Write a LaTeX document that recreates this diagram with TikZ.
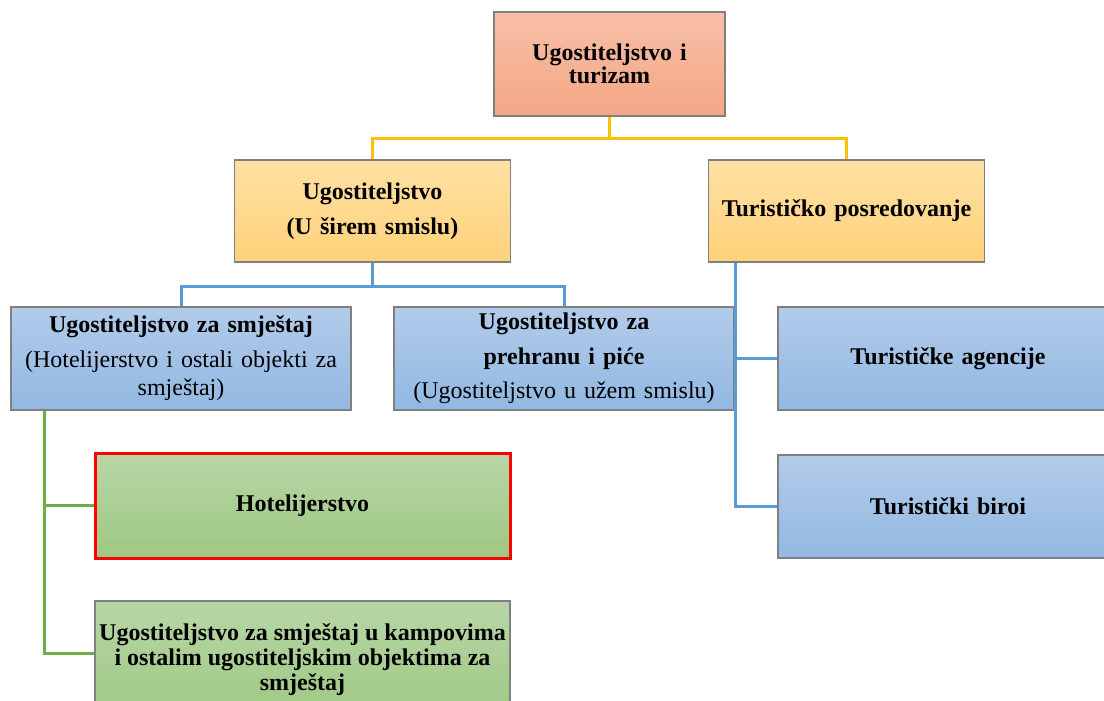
\documentclass[tikz,border=0pt]{standalone}
\usepackage{fontspec}
\setmainfont{Liberation Serif}

\definecolor{edgegray}{RGB}{128,128,128}
\definecolor{rootTop}{RGB}{247,192,168}
\definecolor{rootBot}{RGB}{244,166,132}
\definecolor{yelTop}{RGB}{255,224,164}
\definecolor{yelBot}{RGB}{255,210,122}
\definecolor{bluTop}{RGB}{178,203,234}
\definecolor{bluBot}{RGB}{146,184,226}
\definecolor{grnTop}{RGB}{184,214,166}
\definecolor{grnBot}{RGB}{158,200,130}
\definecolor{goldline}{RGB}{255,192,0}
\definecolor{blueline}{RGB}{91,155,213}
\definecolor{greenline}{RGB}{112,173,71}

\tikzset{
  box/.style={draw=edgegray, line width=0.75pt, align=center, inner sep=1pt,
    font=\fontsize{12}{14}\selectfont},
  rootbox/.style={box, top color=rootTop, bottom color=rootBot,
    minimum width=115.5pt, minimum height=52pt, text width=112pt},
  yelbox/.style={box, top color=yelTop, bottom color=yelBot,
    minimum width=138pt, minimum height=51pt, text width=135pt},
  blubox/.style={box, top color=bluTop, bottom color=bluBot,
    minimum width=170pt, minimum height=51.5pt, text width=167pt},
  grnbox/.style={box, top color=grnTop, bottom color=grnBot,
    minimum width=207.5pt, minimum height=52.5pt, text width=205pt},
  yline/.style={draw=goldline, line width=1.5pt},
  bline/.style={draw=blueline, line width=1.5pt},
  gline/.style={draw=greenline, line width=1.5pt}
}

\begin{document}
\begin{tikzpicture}[x=0.5pt, y=-0.5pt]
  \useasboundingbox (0,0) rectangle (1104,701);
  \clip (0,0) rectangle (1104,701);

  %% top
  \node[rootbox, font=\fontsize{12}{11.5}\selectfont\bfseries] (root) at (609.5,64)
    {Ugostiteljstvo i\\ turizam};

  %% second row
  \node[yelbox, font=\fontsize{12}{14}\selectfont\bfseries] (ugo) at (372.5,211)
    {\rule{0pt}{6pt}Ugostiteljstvo\\[3.5pt] (U širem smislu)};
  \node[yelbox, font=\fontsize{12}{14}\selectfont\bfseries] (tur) at (846.5,211)
    {Turističko posredovanje};

  %% third row
  \node[blubox] (smj) at (181,358.5)
    {\textbf{Ugostiteljstvo za smještaj}\\[3.5pt] (Hotelijerstvo i ostali objekti za\\ smještaj)};
  \node[blubox] (preh) at (564,358.5)
    {\textbf{Ugostiteljstvo za}\\[3.5pt] \textbf{prehranu i piće}\\[3pt] (Ugostiteljstvo u užem smislu)};
  \node[blubox, font=\fontsize{12}{14}\selectfont\bfseries] (agen) at (948,358.5)
    {Turističke agencije};
  \node[blubox, font=\fontsize{12}{14}\selectfont\bfseries] (biro) at (948,506.5)
    {Turistički biroi};

  %% smjestaj children
  \node[grnbox, draw=red, line width=1.5pt, font=\fontsize{12}{14}\selectfont\bfseries] (hotel) at (302.5,505.5)
    {Hotelijerstvo};
  \node[grnbox, text width={}, minimum height=58.5pt, font=\fontsize{12}{12.5}\selectfont\bfseries] (kamp) at (302.5,659.5)
    {Ugostiteljstvo za smještaj u kampovima\\ i ostalim ugostiteljskim objektima za\\ smještaj};

  %% connectors
  \path (root.south) ++(0,22) coordinate (rj);
  \draw[yline] (root.south) -- (rj) -| (ugo.north);
  \draw[yline] (rj) -| (tur.north);

  \path (ugo.south) ++(0,24) coordinate (uj);
  \draw[bline] (ugo.south) -- (uj) -| (smj.north);
  \draw[bline] (uj) -| (preh.north);

  \path (tur.south west) ++(28,0) coordinate (tj);
  \draw[bline] (tj) |- (agen.west);
  \draw[bline] (tj) |- (biro.west);

  \path (smj.south west) ++(34,0) coordinate (sj);
  \draw[gline] (sj) |- (hotel.west);
  \draw[gline] (sj) |- ([yshift=-26.5pt]kamp.north west);

\end{tikzpicture}
\end{document}
